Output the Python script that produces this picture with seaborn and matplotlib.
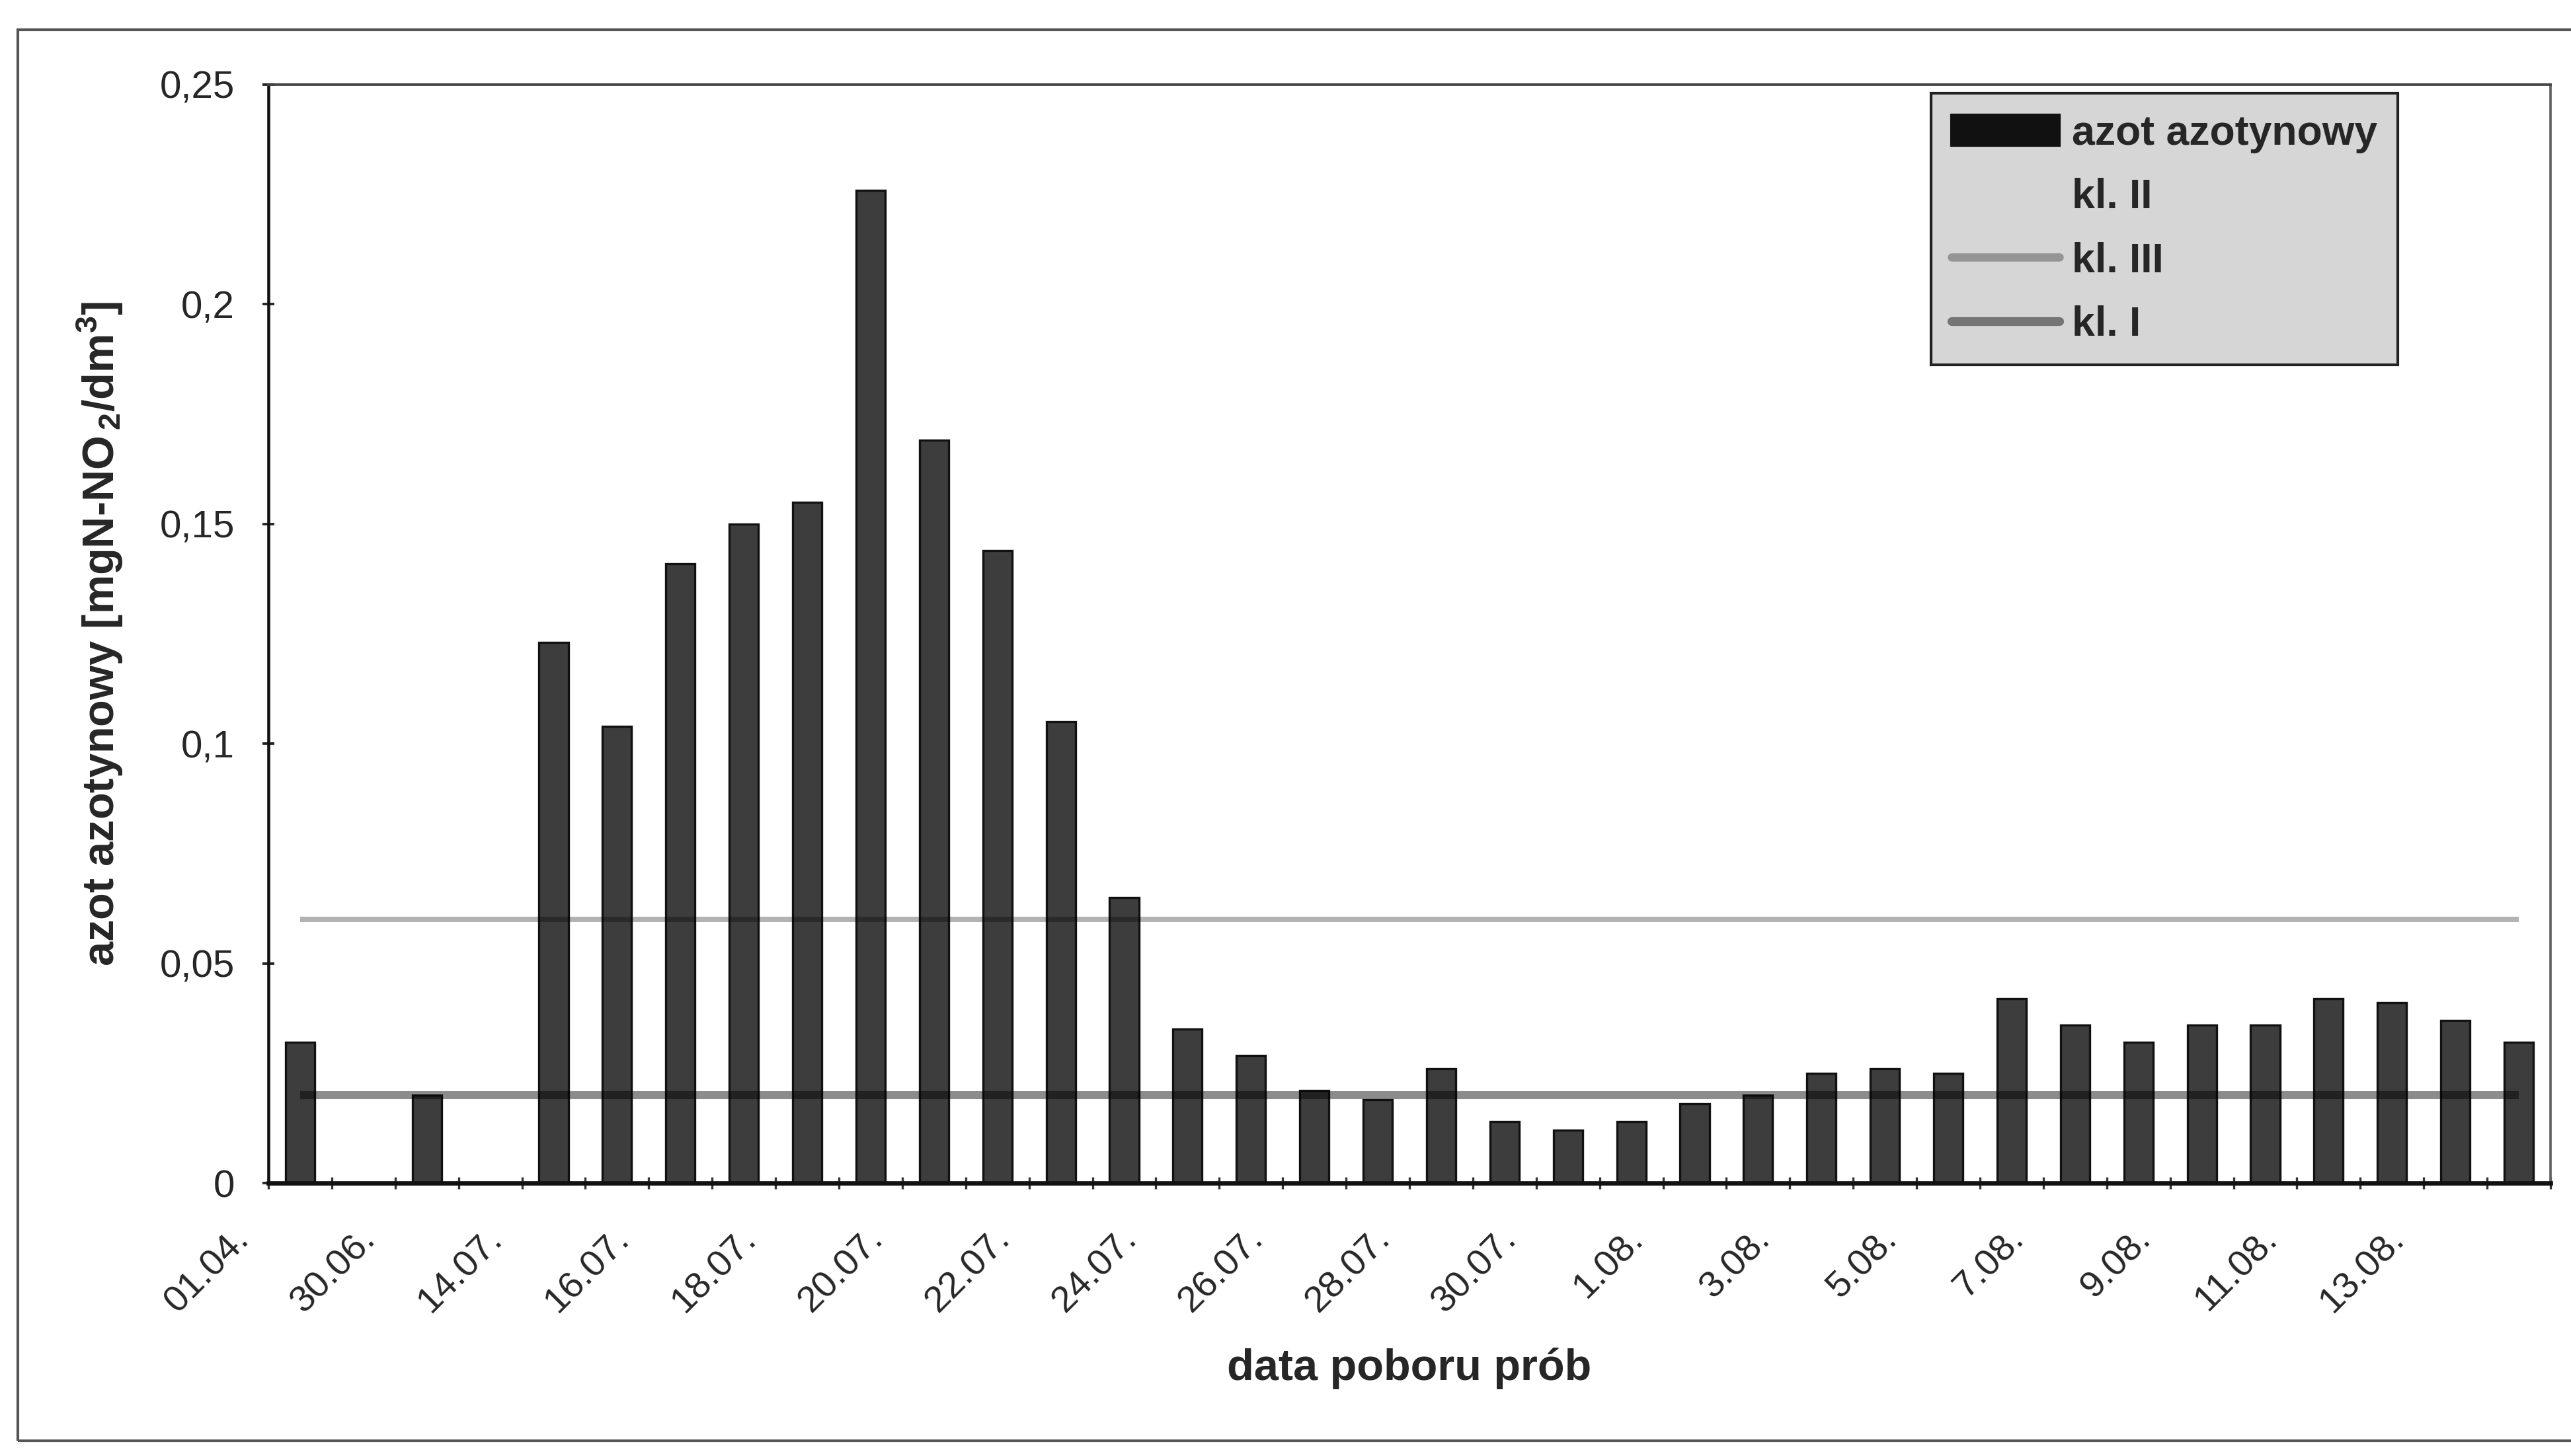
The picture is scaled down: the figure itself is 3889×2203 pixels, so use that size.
import numpy as np
import pandas as pd
import matplotlib
matplotlib.use("Agg")
import matplotlib.pyplot as plt
import matplotlib.patches as mpatches
import matplotlib.transforms as mtransforms
from matplotlib.lines import Line2D
from matplotlib.ticker import FuncFormatter, FixedLocator
import seaborn as sns

# Sampling dates (two early slots carry no sample and no label)
sample_dates = [
    "01.04.", None, "30.06.", None,
    "14.07.", "15.07.", "16.07.", "17.07.", "18.07.", "19.07.", "20.07.",
    "21.07.", "22.07.", "23.07.", "24.07.", "25.07.", "26.07.", "27.07.",
    "28.07.", "29.07.", "30.07.", "31.07.", "1.08.", "2.08.", "3.08.",
    "4.08.", "5.08.", "6.08.", "7.08.", "8.08.", "9.08.", "10.08.",
    "11.08.", "12.08.", "13.08.", "14.08.",
]

# Nitrite nitrogen concentration [mgN-NO2/dm3]
nitrite = [
    0.032, np.nan, 0.020, np.nan,
    0.123, 0.104, 0.141, 0.150, 0.155, 0.226, 0.169,
    0.144, 0.105, 0.065, 0.035, 0.029, 0.021, 0.019,
    0.026, 0.014, 0.012, 0.014, 0.018, 0.020, 0.025,
    0.026, 0.025, 0.042, 0.036, 0.032, 0.036, 0.036,
    0.042, 0.041, 0.037, 0.032,
]

# Water quality class limits
class_limits = {"kl. III": 0.06, "kl. I": 0.02}

y_ticks = [0, 0.05, 0.1, 0.15, 0.2, 0.25]

sns.set_theme(style="white")
plt.rcParams["font.family"] = ["Liberation Sans", "DejaVu Sans"]
plt.rcParams["mathtext.default"] = "regular"

W, H = 3889, 2203
DPI = 300
fig = plt.figure(figsize=(W / DPI, H / DPI), dpi=DPI)
fig.patch.set_facecolor("white")

ax_l, ax_r, ax_t, ax_b = 406, 3858, 128, 1790
ax = fig.add_axes([ax_l / W, 1 - ax_b / H, (ax_r - ax_l) / W, (ax_b - ax_t) / H])

n = len(sample_dates)
slots = list(range(n))
df = pd.DataFrame({"slot": slots, "value": nitrite}).dropna()

sns.barplot(data=df, x="slot", y="value", order=slots, ax=ax,
            color="#3d3d3d", width=0.46, edgecolor="#111111",
            linewidth=0.8, saturation=1, zorder=2)

# class limit lines across all sampling slots
limit_style = {"kl. III": dict(color="black", alpha=0.30, lw=1.9),
               "kl. I": dict(color="black", alpha=0.45, lw=2.9)}
for name, val in class_limits.items():
    sns.lineplot(x=slots, y=[val] * n, ax=ax, zorder=3,
                 solid_capstyle="butt", **limit_style[name])

ax.set_xlim(-0.5, n - 0.5)
ax.set_ylim(0, 0.25)

# y axis
ax.set_yticks(y_ticks)
ax.yaxis.set_major_formatter(FuncFormatter(lambda v, p: ("%g" % v).replace(".", ",")))
ax.tick_params(axis="y", direction="inout", length=4.5, width=0.9,
               labelsize=14, pad=10, left=True, color="#222222")

# x axis: category boundary ticks and labels on every second date
ax.xaxis.set_major_locator(FixedLocator(slots[::2]))
ax.set_xticklabels([d if d else "" for d in sample_dates[::2]],
                   rotation=45, ha="right", va="top")
ax.xaxis.set_minor_locator(FixedLocator(np.arange(-0.5, n, 1.0)))
ax.tick_params(axis="x", which="major", length=0, labelsize=13.5, pad=14)
ax.tick_params(axis="x", which="minor", direction="inout", length=4.5,
               width=0.8, bottom=True, color="#333333")
offset = mtransforms.ScaledTranslation(-16 / 72, 0, fig.dpi_scale_trans)
for lab in ax.get_xticklabels():
    lab.set_transform(lab.get_transform() + offset)

ax.set_xlabel("data poboru prób", fontsize=16, fontweight="bold")
ax.set_ylabel("azot azotynowy [mgN-NO$_{\\,2}$/dm$^{3}$]", fontsize=16,
              fontweight="bold")
ax.xaxis.set_label_coords(0.5, -0.15)
ax.yaxis.set_label_coords(-0.063, 0.5)

# plot area frame
for side in ("left", "bottom"):
    ax.spines[side].set_color("#111111")
ax.spines["left"].set_linewidth(1.1)
ax.spines["bottom"].set_linewidth(1.6)
ax.spines["top"].set_color("#444444")
ax.spines["top"].set_linewidth(0.9)
ax.spines["right"].set_color("#666666")
ax.spines["right"].set_linewidth(0.9)
ax.spines["right"].set_linestyle((0, (1, 1)))
ax.grid(False)

# legend
handles = [
    mpatches.Patch(facecolor="#111111", edgecolor="#111111"),
    Line2D([], [], color="none"),
    Line2D([], [], color="black", alpha=0.30, lw=3.0),
    Line2D([], [], color="black", alpha=0.45, lw=3.2),
]
labels = ["azot azotynowy", "kl. II", "kl. III", "kl. I"]
leg = ax.legend(handles, labels, loc="upper left",
                bbox_to_anchor=(0.7286, 0.992), frameon=True, fancybox=False,
                prop={"weight": "bold", "size": 15}, handlelength=2.6,
                handleheight=0.75, handletextpad=0.3, labelspacing=0.6,
                borderpad=0.5, borderaxespad=0.0)
frame = leg.get_frame()
frame.set_facecolor("#d6d6d6")
frame.set_edgecolor("#222222")
frame.set_linewidth(1.0)
frame.set_alpha(1)

# outer chart border
fig.patches.append(mpatches.Rectangle(
    (27 / W, 1 - 2180 / H), 1.2, (2180 - 45) / H, transform=fig.transFigure,
    fill=False, edgecolor="#555555", linewidth=1.0))

fig.savefig("out.png", dpi=DPI, facecolor="white")
